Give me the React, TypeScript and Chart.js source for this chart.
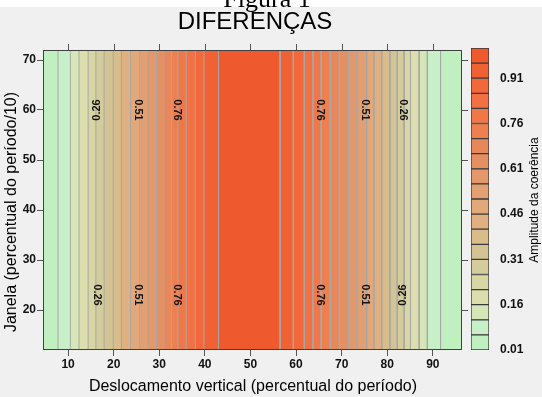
import React, { useEffect, useRef } from 'react';
import { Chart, registerables } from 'chart.js';

Chart.register(...registerables);

// Contour levels (lower bound of each band above the first)
const levels = [0.06, 0.11, 0.16, 0.21, 0.26, 0.31, 0.36, 0.41, 0.46, 0.51, 0.56, 0.61, 0.66, 0.71, 0.76, 0.81, 0.86, 0.91, 0.96];
// x where each contour level crosses, left and right of the central peak
const leftX = [7.8, 10.5, 12.4, 14.4, 16.1, 17.9, 19.9, 21.7, 23.7, 25.7, 27.5, 29.4, 31.0, 32.7, 34.1, 35.9, 37.9, 39.8, 43.0];
const rightX = [91.7, 88.8, 87.0, 85.1, 83.7, 82.2, 80.6, 78.8, 77.1, 75.5, 73.4, 71.5, 69.5, 67.5, 65.5, 63.7, 61.8, 59.4, 56.5];
// band colours, from 0.01-0.06 up to 0.96-1.01
const bandColors = ['#c0efc0', '#c8f0c8', '#d6e6b6', '#dcdeae', '#d8d6a4', '#d4cc9a', '#d4c494', '#d8bc8a', '#e0b080', '#e2a87a', '#e2a072', '#e2986a', '#e49062', '#e8885a', '#ee8050', '#f07848', '#f27042', '#f2683a', '#f06234', '#ee5a2e'];
const bandLow = [0.01, ...levels];
const bandHigh = [...levels, 1.01];

const xTicks = [10, 20, 30, 40, 50, 60, 70, 80, 90];
const yTicks = [20, 30, 40, 50, 60, 70];
const cbTicks = [0.01, 0.16, 0.31, 0.46, 0.61, 0.76, 0.91];

// contour labels
const labelTexts = ['0.26', '0.51', '0.76', '0.76', '0.51', '0.26', '0.26', '0.51', '0.76', '0.76', '0.51', '0.26'];
const labelX = [16.3, 25.4, 33.9, 65.3, 75.1, 83.5, 16.3, 25.4, 33.9, 65.3, 75.1, 83.5];
const labelY = [60, 60, 60, 60, 60, 60, 23, 23, 23, 23, 23, 23];
const labelRot = [-90, 90, 90, 90, 90, 90, 90, 90, 90, 90, 90, -90];

const SANS = '"Liberation Sans", Arial, sans-serif';
const SERIF = '"Liberation Serif", "Times New Roman", serif';

export default function App() {
  const mainRef = useRef<HTMLCanvasElement | null>(null);
  const cbRef = useRef<HTMLCanvasElement | null>(null);

  useEffect(() => {
    const datasets: any[] = [];
    datasets.push({
      data: [{ x: 0, y: 0 }, { x: 0, y: 100 }, { x: 100, y: 100 }, { x: 100, y: 0 }, { x: 0, y: 0 }],
      backgroundColor: bandColors[0],
      borderWidth: 0,
      borderColor: 'rgba(0,0,0,0)',
      fill: 'shape',
      pointRadius: 0,
      order: 100,
    });
    levels.forEach((lv, k) => {
      const L = leftX[k];
      const R = rightX[k];
      datasets.push({
        label: String(lv),
        data: [{ x: L, y: 0 }, { x: L, y: 100 }, { x: R, y: 100 }, { x: R, y: 0 }, { x: L, y: 0 }],
        backgroundColor: bandColors[k + 1],
        borderColor: '#a8a8a8',
        borderWidth: 1,
        fill: 'shape',
        pointRadius: 0,
        tension: 0,
        order: 50 - k,
      });
    });

    const decor = {
      id: 'decor',
      beforeDraw(chart: any) {
        const ctx = chart.ctx;
        ctx.save();
        ctx.fillStyle = '#f0f0f0';
        ctx.fillRect(0, 0, chart.width, chart.height);
        ctx.fillStyle = '#ffffff';
        ctx.fillRect(0, 0, chart.width, 7);
        ctx.restore();
      },
      afterDraw(chart: any) {
        const ctx = chart.ctx;
        const { left, right, top, bottom } = chart.chartArea;
        const xs = chart.scales.x;
        const ys = chart.scales.y;
        ctx.save();
        // frame
        ctx.strokeStyle = '#404040';
        ctx.lineWidth = 1;
        ctx.strokeRect(Math.round(left) + 0.5, Math.round(top) + 0.5, Math.round(right - left) - 1, Math.round(bottom - top) - 1);
        // top and right ticks
        ctx.beginPath();
        xTicks.forEach((v) => {
          const px = Math.round(xs.getPixelForValue(v)) + 0.5;
          ctx.moveTo(px, top);
          ctx.lineTo(px, top - 6);
        });
        yTicks.forEach((v) => {
          const py = Math.round(ys.getPixelForValue(v)) + 0.5;
          ctx.moveTo(right, py);
          ctx.lineTo(right + 6, py);
        });
        ctx.strokeStyle = '#555555';
        ctx.stroke();
        // contour labels
        ctx.fillStyle = '#111111';
        ctx.font = 'bold 11px ' + SANS;
        ctx.textAlign = 'center';
        ctx.textBaseline = 'middle';
        labelTexts.forEach((t, i) => {
          ctx.save();
          ctx.translate(xs.getPixelForValue(labelX[i]), ys.getPixelForValue(labelY[i]));
          ctx.rotate((labelRot[i] * Math.PI) / 180);
          ctx.fillText(t, 0, 0);
          ctx.restore();
        });
        // titles
        ctx.fillStyle = '#000000';
        ctx.textBaseline = 'alphabetic';
        ctx.font = '26px ' + SERIF;
        ctx.fillText('Figura 1', 267, 7);
        ctx.font = '24px ' + SANS;
        ctx.fillText('DIFERENÇAS', 255, 29);
        ctx.font = '16px ' + SANS;
        ctx.textBaseline = 'middle';
        ctx.fillText('Deslocamento vertical (percentual do período)', 253, 387);
        ctx.save();
        ctx.translate(12, 212);
        ctx.rotate(-Math.PI / 2);
        ctx.fillText('Janela (percentual do período/10)', 0, 0);
        ctx.restore();
        ctx.restore();
      },
    };

    const main = new Chart(mainRef.current as HTMLCanvasElement, {
      type: 'line',
      data: { datasets },
      options: {
        animation: false,
        responsive: false,
        events: [],
        layout: { padding: { left: 0, top: 50, right: 80, bottom: 0 } },
        plugins: { legend: { display: false }, tooltip: { enabled: false } },
        scales: {
          x: {
            type: 'linear',
            min: 4.5,
            max: 96.4,
            afterFit: (s: any) => { s.height = 47; },
            afterBuildTicks: (s: any) => { s.ticks = xTicks.map((v) => ({ value: v })); },
            grid: { drawOnChartArea: false, tickLength: 6, color: '#555555' },
            border: { display: false },
            ticks: { padding: 1, color: '#111111', font: { family: SANS, size: 12, weight: 'bold' }, maxRotation: 0 },
          },
          y: {
            type: 'linear',
            min: 12,
            max: 72,
            afterFit: (s: any) => { s.width = 43; },
            afterBuildTicks: (s: any) => { s.ticks = yTicks.map((v) => ({ value: v })); },
            grid: { drawOnChartArea: false, tickLength: 6, color: '#555555' },
            border: { display: false },
            ticks: { padding: 1, color: '#111111', font: { family: SANS, size: 12, weight: 'bold' } },
          },
        },
      } as any,
      plugins: [decor],
    });

    const cbTitle = {
      id: 'cbTitle',
      afterDraw(chart: any) {
        const ctx = chart.ctx;
        ctx.save();
        ctx.fillStyle = '#000000';
        ctx.font = '12px ' + SANS;
        ctx.textAlign = 'center';
        ctx.textBaseline = 'middle';
        ctx.translate(73, 200);
        ctx.rotate(-Math.PI / 2);
        ctx.fillText('Amplitude da coerência', 0, 0);
        ctx.restore();
      },
    };

    const cb = new Chart(cbRef.current as HTMLCanvasElement, {
      type: 'bar',
      data: {
        labels: ['c'],
        datasets: bandColors.map((c, i) => ({
          data: [[bandLow[i], bandHigh[i]]],
          backgroundColor: c,
          borderColor: '#3a3a3a',
          borderWidth: 1,
          borderSkipped: false,
          grouped: false,
          barPercentage: 1,
          categoryPercentage: 1,
        })),
      },
      options: {
        animation: false,
        responsive: false,
        events: [],
        layout: { padding: { left: 9, top: 48, right: 0, bottom: 47 } },
        plugins: { legend: { display: false }, tooltip: { enabled: false } },
        scales: {
          x: { display: false },
          y: {
            position: 'right',
            min: 0.01,
            max: 1.01,
            afterFit: (s: any) => { s.width = 53; },
            afterBuildTicks: (s: any) => { s.ticks = cbTicks.map((v) => ({ value: v })); },
            grid: { display: false },
            border: { display: false },
            ticks: {
              padding: 3,
              color: '#111111',
              font: { family: SANS, size: 12, weight: 'bold' },
              callback: (v: any) => Number(v).toFixed(2),
            },
          },
        },
      } as any,
      plugins: [cbTitle],
    });

    return () => {
      main.destroy();
      cb.destroy();
    };
  }, []);

  return (
    <div style={{ position: 'absolute', left: 0, top: 0, width: 542, height: 397, background: '#f0f0f0', overflow: 'hidden' }}>
      <canvas ref={mainRef} width={542} height={397} style={{ position: 'absolute', left: 0, top: 0, width: 542, height: 397 }} />
      <canvas ref={cbRef} width={80} height={397} style={{ position: 'absolute', left: 462, top: 0, width: 80, height: 397 }} />
    </div>
  );
}
